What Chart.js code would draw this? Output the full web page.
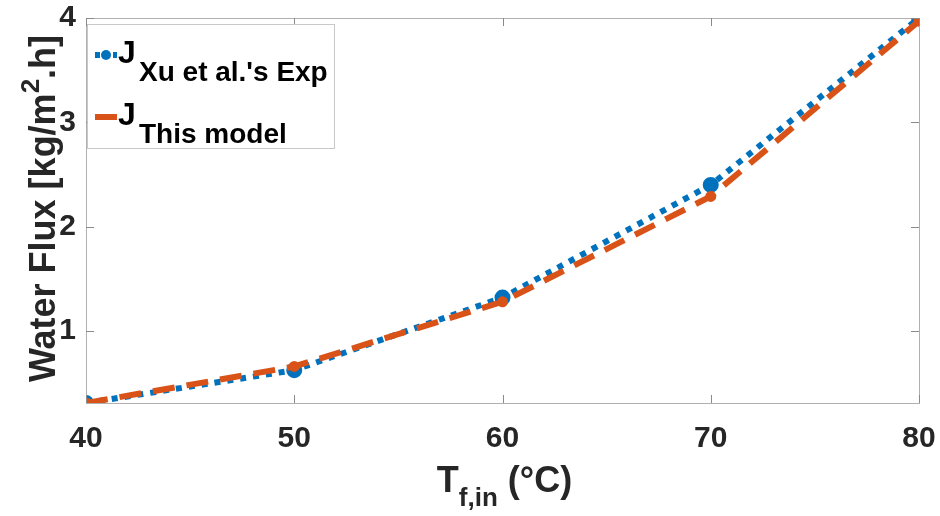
<!DOCTYPE html>
<html lang="en">
<head>
  <meta charset="UTF-8" />
  <title>Water Flux vs Feed Temperature</title>
  <script src="https://cdn.jsdelivr.net/npm/chart.js"></script>
  <style>
    html, body { margin: 0; padding: 0; background: #fff; }
    .wrap { width: 940px; height: 516px; position: relative; }
  </style>
</head>
<body>
  <div class="wrap"><canvas id="fluxChart" width="940" height="516"></canvas></div>

  <script>
    // data
    const temps = [40, 50, 60, 70, 80];
    const fluxExp = [0.31, 0.625, 1.32, 2.40, 4.0];
    const fluxModel = [0.31, 0.66, 1.28, 2.29, 3.97];
    const xTicks = [40, 50, 60, 70, 80];
    const yTicks = [1, 2, 3, 4];

    const BLUE = '#0072BD';
    const ORANGE = '#D95319';
    const INK = '#262626';
    const FONT = '"Liberation Sans", Arial, sans-serif';

    // draws the box, inward ticks, axis titles and the legend (MATLAB look)
    const matlabDecor = {
      id: 'matlabDecor',
      afterDraw(chart) {
        const ctx = chart.ctx;
        const a = chart.chartArea;
        const xs = chart.scales.x, ys = chart.scales.y;
        ctx.save();

        // box
        ctx.strokeStyle = '#b0b0b0';
        ctx.lineWidth = 1;
        ctx.strokeRect(a.left + 0.5, a.top + 0.5, a.right - a.left, a.bottom - a.top);

        // inward ticks
        ctx.strokeStyle = '#8a8a8a';
        xTicks.forEach(v => {
          const px = Math.round(xs.getPixelForValue(v)) + 0.5;
          ctx.beginPath();
          ctx.moveTo(px, a.bottom); ctx.lineTo(px, a.bottom - 8);
          ctx.moveTo(px, a.top); ctx.lineTo(px, a.top + 8);
          ctx.stroke();
        });
        yTicks.forEach(v => {
          const py = Math.round(ys.getPixelForValue(v)) + 0.5;
          ctx.beginPath();
          ctx.moveTo(a.left, py); ctx.lineTo(a.left + 8, py);
          ctx.moveTo(a.right, py); ctx.lineTo(a.right - 8, py);
          ctx.stroke();
        });

        ctx.fillStyle = INK;
        ctx.textBaseline = 'alphabetic';
        ctx.textAlign = 'left';

        // x title: T_{f,in} (°C)
        const big = 'bold 36px ' + FONT, small = 'bold 26px ' + FONT;
        const cx = (a.left + a.right) / 2;
        ctx.font = big;
        const wT = ctx.measureText('T').width;
        const wRest = ctx.measureText(' (°C)').width;
        ctx.font = small;
        const wSub = ctx.measureText('f,in').width;
        let x0 = cx - (wT + wSub + wRest) / 2 + 2;
        ctx.font = big;
        ctx.fillText('T', x0, 492);
        ctx.font = small;
        ctx.fillText('f,in', x0 + wT, 506);
        ctx.font = big;
        ctx.fillText(' (°C)', x0 + wT + wSub, 492);

        // y title: Water Flux [kg/m^2.h]
        ctx.save();
        ctx.translate(55, (a.top + a.bottom) / 2 - 2);
        ctx.rotate(-Math.PI / 2);
        const p1 = 'Water Flux [kg/m', p3 = '.h]';
        ctx.font = big;
        const w1 = ctx.measureText(p1).width;
        const w3 = ctx.measureText(p3).width;
        ctx.font = small;
        const w2 = ctx.measureText('2').width;
        let y0 = -(w1 + w2 + w3) / 2;
        ctx.font = big;
        ctx.fillText(p1, y0, 0);
        ctx.font = small;
        ctx.fillText('2', y0 + w1, -16);
        ctx.font = big;
        ctx.fillText(p3, y0 + w1 + w2, 0);
        ctx.restore();

        // legend box
        const lx = 87, ly = 24, lw = 247, lh = 124;
        ctx.fillStyle = '#fff';
        ctx.fillRect(lx, ly, lw, lh);
        ctx.strokeStyle = '#c8c8c8';
        ctx.lineWidth = 1;
        ctx.strokeRect(lx + 0.5, ly + 0.5, lw, lh);

        const entries = [
          { color: BLUE, dash: [5, 4], marker: true, sub: "Xu et al.'s Exp", y: 55 },
          { color: ORANGE, dash: [], marker: false, sub: 'This model', y: 117 }
        ];
        entries.forEach(e => {
          ctx.strokeStyle = e.color;
          ctx.lineWidth = 6;
          ctx.setLineDash(e.dash);
          ctx.beginPath();
          ctx.moveTo(95, e.y); ctx.lineTo(117, e.y);
          ctx.stroke();
          ctx.setLineDash([]);
          if (e.marker) {
            ctx.fillStyle = e.color;
            ctx.beginPath(); ctx.arc(106, e.y, 5, 0, Math.PI * 2); ctx.fill();
          }
          ctx.fillStyle = 'black';
          ctx.font = 'bold 32px ' + FONT;
          ctx.fillText('J', 118, e.y + 8);
          ctx.font = 'bold 28px ' + FONT;
          ctx.fillText(e.sub, 139, e.y + 26);
        });

        ctx.restore();
      }
    };

    new Chart(document.getElementById('fluxChart'), {
      type: 'line',
      data: {
        labels: temps,
        datasets: [
          {
            label: "J Xu et al.'s Exp",
            data: temps.map((t, i) => ({ x: t, y: fluxExp[i] })),
            borderColor: BLUE,
            backgroundColor: BLUE,
            borderWidth: 6,
            borderDash: [6, 7],
            borderCapStyle: 'butt',
            pointRadius: 5,
            pointBackgroundColor: BLUE,
            pointBorderColor: BLUE,
            tension: 0,
            order: 1
          },
          {
            label: 'J This model',
            data: temps.map((t, i) => ({ x: t, y: fluxModel[i] })),
            borderColor: ORANGE,
            backgroundColor: ORANGE,
            borderWidth: 6,
            borderDash: [22, 12],
            pointRadius: 2.5,
            pointBackgroundColor: ORANGE,
            pointBorderColor: ORANGE,
            tension: 0,
            order: 0
          }
        ]
      },
      options: {
        responsive: false,
        animation: false,
        layout: { padding: { top: 18, right: 21, left: 0, bottom: 0 } },
        plugins: {
          legend: { display: false },
          tooltip: { enabled: false }
        },
        scales: {
          x: {
            type: 'linear',
            min: 40, max: 80,
            afterBuildTicks: s => { s.ticks = xTicks.map(v => ({ value: v })); },
            afterFit: s => { s.height = 113; s.paddingLeft = 0; s.paddingRight = 0; },
            grid: { display: false, drawTicks: false },
            border: { display: false },
            ticks: { padding: 18, color: INK, font: { family: FONT, size: 30, weight: 'bold' } }
          },
          y: {
            min: 0.31, max: 4,
            afterBuildTicks: s => { s.ticks = yTicks.map(v => ({ value: v })); },
            afterFit: s => { s.width = 86; s.paddingTop = 0; s.paddingBottom = 0; },
            grid: { display: false, drawTicks: false },
            border: { display: false },
            ticks: { padding: 10, color: INK, font: { family: FONT, size: 30, weight: 'bold' } }
          }
        }
      },
      plugins: [matlabDecor]
    });
  </script>
</body>
</html>
